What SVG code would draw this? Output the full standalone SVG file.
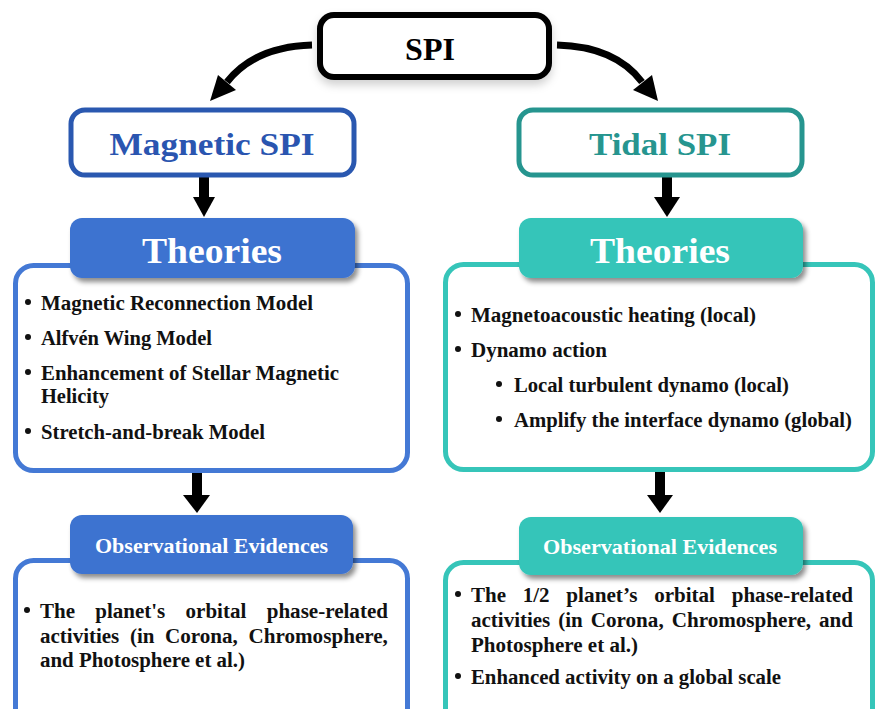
<svg xmlns="http://www.w3.org/2000/svg" width="876" height="709" viewBox="0 0 876 709">
<defs>
<filter id="sh" x="-10%" y="-20%" width="125%" height="150%">
<feDropShadow dx="3" dy="4" stdDeviation="2.5" flood-color="#000" flood-opacity="0.45"/>
</filter>
<filter id="sh2" x="-10%" y="-20%" width="120%" height="160%">
<feDropShadow dx="0" dy="5" stdDeviation="4" flood-color="#000" flood-opacity="0.18"/>
</filter>
<style>
text{font-family:"Liberation Serif","Times New Roman",serif;font-weight:bold}
.t{font-size:20px;fill:#111}
.bl{fill:#111}
.hdr{fill:#fff;text-anchor:middle}
.ar{fill:#000}
.arl{fill:none;stroke:#000;stroke-width:7}
</style>
</defs>
<rect width="876" height="709" fill="#fff"/>

<g id="connectors">
<path class="arl" d="M312,45 C276,46 246,58 227,82"/>
<polygon class="ar" points="210,101 218,75 236,90"/>
<path class="arl" d="M557,45 C594,46 624,58 642,82"/>
<polygon class="ar" points="658,101 633,90 652,75"/>
<rect class="ar" x="199" y="177" width="10" height="22"/>
<polygon class="ar" points="193,197 215,197 204,217"/>
<rect class="ar" x="662" y="177" width="10" height="22"/>
<polygon class="ar" points="654,197 680,197 667,217"/>
<rect class="ar" x="192" y="472" width="10" height="25"/>
<polygon class="ar" points="183,495 210,495 197,513"/>
<rect class="ar" x="655" y="472" width="10" height="25"/>
<polygon class="ar" points="647,495 673,495 660,513"/>
</g>

<g id="spi">
<rect x="320" y="15" width="229" height="62" rx="14" fill="#fff" stroke="#000" stroke-width="6" filter="url(#sh2)"/>
<text x="430" y="60" font-size="32" text-anchor="middle" fill="#000">SPI</text>
</g>

<g id="magnetic-spi">
<rect x="71" y="110" width="283" height="65" rx="14" fill="#fff" stroke="#2a58b0" stroke-width="5"/>
<text x="212" y="155" font-size="32" text-anchor="middle" fill="#2a55b0" textLength="205" lengthAdjust="spacingAndGlyphs">Magnetic SPI</text>
</g>

<g id="tidal-spi">
<rect x="519" y="110" width="283" height="65" rx="14" fill="#fff" stroke="#26958f" stroke-width="5"/>
<text x="660" y="155" font-size="32" text-anchor="middle" fill="#26958f" textLength="142" lengthAdjust="spacingAndGlyphs">Tidal SPI</text>
</g>

<g id="magnetic-theories">
<rect x="15.5" y="265.5" width="392" height="205" rx="18" fill="#fff" stroke="#4479d5" stroke-width="5"/>
<rect x="70" y="218" width="285" height="60" rx="12" fill="#3d73d0" filter="url(#sh)"/>
<text class="hdr" x="212" y="263" font-size="36" textLength="140" lengthAdjust="spacingAndGlyphs">Theories</text>
<circle class="bl" cx="28" cy="302" r="3"/>
<text class="t" x="41" y="310" textLength="272" lengthAdjust="spacingAndGlyphs">Magnetic Reconnection Model</text>
<circle class="bl" cx="28" cy="337" r="3"/>
<text class="t" x="41" y="345" textLength="171" lengthAdjust="spacingAndGlyphs">Alfvén Wing Model</text>
<circle class="bl" cx="28" cy="372" r="3"/>
<text class="t" x="41" y="380" textLength="298" lengthAdjust="spacingAndGlyphs">Enhancement of Stellar Magnetic</text>
<text class="t" x="41" y="403" textLength="68" lengthAdjust="spacingAndGlyphs">Helicity</text>
<circle class="bl" cx="28" cy="431" r="3"/>
<text class="t" x="41" y="439" textLength="224" lengthAdjust="spacingAndGlyphs">Stretch-and-break Model</text>
</g>

<g id="tidal-theories">
<rect x="445.5" y="264.5" width="427" height="205" rx="18" fill="#fff" stroke="#36c5b9" stroke-width="5"/>
<rect x="519" y="218" width="284" height="60" rx="12" fill="#34c5b9" filter="url(#sh)"/>
<text class="hdr" x="660" y="263" font-size="36" textLength="140" lengthAdjust="spacingAndGlyphs">Theories</text>
<circle class="bl" cx="458" cy="314" r="3"/>
<text class="t" x="471" y="322" textLength="285" lengthAdjust="spacingAndGlyphs">Magnetoacoustic heating (local)</text>
<circle class="bl" cx="458" cy="349" r="3"/>
<text class="t" x="471" y="357" textLength="136" lengthAdjust="spacingAndGlyphs">Dynamo action</text>
<circle class="bl" cx="499" cy="384" r="3"/>
<text class="t" x="514" y="392" textLength="275" lengthAdjust="spacingAndGlyphs">Local turbulent dynamo (local)</text>
<circle class="bl" cx="499" cy="419" r="3"/>
<text class="t" x="514" y="427" textLength="338" lengthAdjust="spacingAndGlyphs">Amplify the interface dynamo (global)</text>
</g>

<g id="magnetic-evidences">
<rect x="15.5" y="560.5" width="392" height="175" rx="18" fill="#fff" stroke="#4479d5" stroke-width="5"/>
<rect x="70" y="515" width="283" height="59" rx="12" fill="#3d73d0" filter="url(#sh)"/>
<text class="hdr" x="211.5" y="553" font-size="21" textLength="233" lengthAdjust="spacingAndGlyphs">Observational Evidences</text>
<circle class="bl" cx="27" cy="610" r="3"/>
<text class="t" x="40" y="618" textLength="35" lengthAdjust="spacingAndGlyphs">The</text>
<text class="t" x="95.3" y="618" textLength="70" lengthAdjust="spacingAndGlyphs">planet's</text>
<text class="t" x="185.6" y="618" textLength="60.7" lengthAdjust="spacingAndGlyphs">orbital</text>
<text class="t" x="266.7" y="618" textLength="121.3" lengthAdjust="spacingAndGlyphs">phase-related</text>
<text class="t" x="40" y="643" textLength="79.3" lengthAdjust="spacingAndGlyphs">activities</text>
<text class="t" x="129.9" y="643" textLength="24.5" lengthAdjust="spacingAndGlyphs">(in</text>
<text class="t" x="165" y="643" textLength="72.9" lengthAdjust="spacingAndGlyphs">Corona,</text>
<text class="t" x="248.5" y="643" textLength="139.4" lengthAdjust="spacingAndGlyphs">Chromosphere,</text>
<text class="t" x="40" y="667" textLength="205" lengthAdjust="spacingAndGlyphs">and Photosphere et al.)</text>
</g>

<g id="tidal-evidences">
<rect x="445.5" y="562.5" width="427" height="175" rx="18" fill="#fff" stroke="#36c5b9" stroke-width="5"/>
<rect x="519" y="517" width="284" height="58" rx="12" fill="#34c5b9" filter="url(#sh)"/>
<text class="hdr" x="660" y="554" font-size="21" textLength="234" lengthAdjust="spacingAndGlyphs">Observational Evidences</text>
<circle class="bl" cx="458" cy="594" r="3"/>
<text class="t" x="471" y="602" textLength="35" lengthAdjust="spacingAndGlyphs">The</text>
<text class="t" x="522.8" y="602" textLength="26.8" lengthAdjust="spacingAndGlyphs">1/2</text>
<text class="t" x="566.3" y="602" textLength="71.2" lengthAdjust="spacingAndGlyphs">planet’s</text>
<text class="t" x="654.2" y="602" textLength="60.7" lengthAdjust="spacingAndGlyphs">orbital</text>
<text class="t" x="731.7" y="602" textLength="121.3" lengthAdjust="spacingAndGlyphs">phase-related</text>
<text class="t" x="471" y="627" textLength="79.3" lengthAdjust="spacingAndGlyphs">activities</text>
<text class="t" x="558.3" y="627" textLength="24.5" lengthAdjust="spacingAndGlyphs">(in</text>
<text class="t" x="590.8" y="627" textLength="72.9" lengthAdjust="spacingAndGlyphs">Corona,</text>
<text class="t" x="671.7" y="627" textLength="139.4" lengthAdjust="spacingAndGlyphs">Chromosphere,</text>
<text class="t" x="819.1" y="627" textLength="33.9" lengthAdjust="spacingAndGlyphs">and</text>
<text class="t" x="471" y="652" textLength="167" lengthAdjust="spacingAndGlyphs">Photosphere et al.)</text>
<circle class="bl" cx="458" cy="676" r="3"/>
<text class="t" x="471" y="684" textLength="310" lengthAdjust="spacingAndGlyphs">Enhanced activity on a global scale</text>
</g>
</svg>
